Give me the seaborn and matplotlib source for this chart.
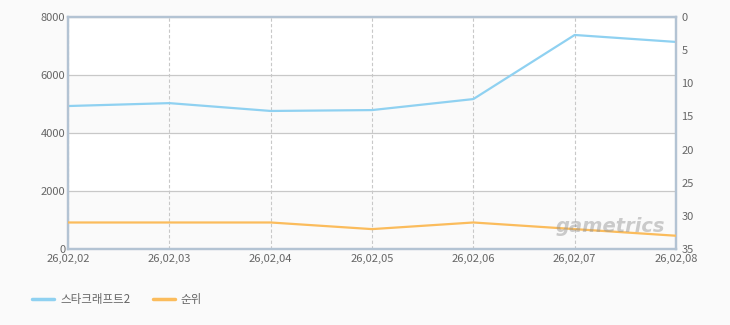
import matplotlib
matplotlib.use("Agg")
import matplotlib.pyplot as plt
import seaborn as sns
import pandas as pd
from matplotlib.lines import Line2D

dates = ["26,02,02", "26,02,03", "26,02,04", "26,02,05", "26,02,06", "26,02,07", "26,02,08"]
usage = [4930, 5030, 4760, 4790, 5170, 7380, 7140]
rank = [31, 31, 31, 32, 31, 32, 33]
series_names = ["스타크래프트2", "순위"]

df = pd.DataFrame({"x": range(len(dates)), "usage": usage, "rank": rank})

sns.set_style("white")
plt.rcParams['font.family'] = ['Noto Sans CJK KR', 'DejaVu Sans']

BLUE = "#8fd1f1"
ORANGE = "#fbbc5c"
SPINE = "#b3c3d3"
TXT = "#666666"

fig = plt.figure(figsize=(7.3, 3.25), dpi=100, facecolor="#fafafa")
ax = fig.add_axes([68/730, 1-249/325, (676-68)/730, (249-17)/325])
ax.set_facecolor("white")
for lo in (0, 4000):
    ax.axhspan(lo, lo+2000, color="#fafafa", zorder=0, lw=0)

sns.lineplot(data=df, x="x", y="usage", ax=ax, color=BLUE, lw=1.6, zorder=3)
ax.set_ylim(0, 8000)
ax.set_xlim(0, len(dates)-1)
ax.set_yticks([0, 2000, 4000, 6000, 8000])
ax.set_xticks(range(len(dates)))
ax.set_xticklabels(dates)
ax.set_xlabel("")
ax.set_ylabel("")
ax.grid(axis="y", color="#c8c8c8", lw=0.9, ls="-")
ax.grid(axis="x", color="#c8c8c8", lw=0.8, ls=(0, (3, 2)))
ax.set_axisbelow(True)
ax.tick_params(axis="y", labelsize=8, colors=TXT, length=0, pad=2)
ax.tick_params(axis="x", labelsize=8, colors=TXT, length=0, pad=3.5)
for s in ax.spines.values():
    s.set_color(SPINE)
    s.set_linewidth(1.6)

ax2 = ax.twinx()
sns.lineplot(data=df, x="x", y="rank", ax=ax2, color=ORANGE, lw=1.6, zorder=3)
ax2.set_ylim(35, 0)
ax2.set_yticks(range(0, 36, 5))
ax2.set_ylabel("")
ax2.tick_params(axis="y", labelsize=8, colors=TXT, length=0, pad=4)
for s in ax2.spines.values():
    s.set_color(SPINE)
    s.set_linewidth(1.6)

# watermark
fig.text(556/730, 1-226/325, "gametrics", fontsize=14, fontstyle="italic", fontweight="bold",
         color="#909090", alpha=0.45, family="DejaVu Sans", va="center", ha="left", zorder=10)

handles = [Line2D([0], [0], color=BLUE, lw=2.5), Line2D([0], [0], color=ORANGE, lw=2.5)]
fig.legend(handles, series_names, loc="center left", bbox_to_anchor=(22/730, 1-300/325),
           ncol=2, frameon=False, fontsize=8.3, labelcolor=TXT, handlelength=1.9,
           handletextpad=0.5, columnspacing=2.0)

fig.savefig("out.png", dpi=100, facecolor=fig.get_facecolor())
